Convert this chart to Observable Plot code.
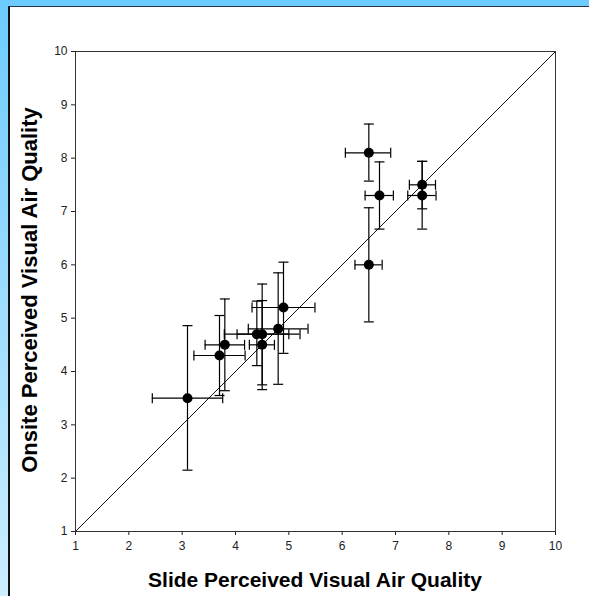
<!DOCTYPE html>
<html><head><meta charset="utf-8">
<script src="https://cdn.jsdelivr.net/npm/d3@7"></script>
<script src="https://cdn.jsdelivr.net/npm/@observablehq/plot@0.6"></script>
<style>
html,body{margin:0;padding:0;width:589px;height:596px;overflow:hidden;}
#bg{position:absolute;left:0;top:0;width:589px;height:596px;background:linear-gradient(to bottom,#6ccbff,#cdeeff);}
#panel{position:absolute;left:8px;top:6px;right:0;bottom:0;background:#fff;border-left:2px solid #111;border-top:1px solid #2a3440;}
#chart{position:absolute;left:0;top:0;}
#chart svg text{font-size:12px;fill:#222;}
.ttl{position:absolute;font-family:"Liberation Sans",Arial,sans-serif;font-weight:bold;color:#000;white-space:nowrap;}
#xt{left:315px;top:580px;font-size:21px;transform:translate(-50%,-50%);}
#yt{left:30px;top:290px;font-size:22px;transform:translate(-50%,-50%) rotate(-90deg);}
</style>
</head><body>
<div id="bg"></div>
<div id="panel"></div>
<div id="chart"></div>
<div class="ttl" id="xt">Slide Perceived Visual Air Quality</div>
<div class="ttl" id="yt">Onsite Perceived Visual Air Quality</div>
<script>
// Data
const slide    = [3.1, 3.7, 3.8, 4.4, 4.5, 4.5, 4.8, 4.9, 6.5, 6.5, 6.7, 7.5, 7.5];
const onsite   = [3.5, 4.3, 4.5, 4.7, 4.7, 4.5, 4.8, 5.2, 8.1, 6.0, 7.3, 7.5, 7.3];
const slideLo  = [2.44, 3.22, 3.43, 3.79, 4.03, 4.26, 4.24, 4.31, 6.06, 6.24, 6.43, 7.26, 7.23];
const slideHi  = [3.76, 4.18, 4.17, 5.00, 5.21, 4.73, 5.36, 5.49, 6.91, 6.75, 6.96, 7.75, 7.76];
const onsiteLo = [2.15, 3.55, 3.64, 4.11, 3.75, 3.66, 3.76, 4.34, 7.57, 4.93, 6.67, 7.05, 6.67];
const onsiteHi = [4.86, 5.05, 5.36, 5.32, 5.64, 5.33, 5.85, 6.05, 8.64, 7.07, 7.93, 7.94, 7.94];
const xTicks = [1, 2, 3, 4, 5, 6, 7, 8, 9, 10];
const yTicks = [1, 2, 3, 4, 5, 6, 7, 8, 9, 10];
const identityLine = [1, 10];

const points = slide.map((s, i) => ({
  slide: s, onsite: onsite[i],
  slideLo: slideLo[i], slideHi: slideHi[i],
  onsiteLo: onsiteLo[i], onsiteHi: onsiteHi[i]
}));

const vCap = {draw(ctx, size) { const r = Math.sqrt(size / Math.PI); ctx.moveTo(0, -r); ctx.lineTo(0, r); }};
const hCap = {draw(ctx, size) { const r = Math.sqrt(size / Math.PI); ctx.moveTo(-r, 0); ctx.lineTo(r, 0); }};

const chart = Plot.plot({
  width: 589, height: 596,
  marginLeft: 75, marginRight: 34, marginTop: 51, marginBottom: 65,
  style: {background: "transparent", fontFamily: "'Liberation Sans', Arial, sans-serif", fontSize: "12px", color: "#222"},
  x: {domain: [1, 10], ticks: xTicks, tickFormat: "d", tickSize: 4, tickPadding: 6, label: null},
  y: {domain: [1, 10], ticks: yTicks, tickFormat: "d", tickSize: 4, tickPadding: 4, label: null},
  marks: [
    Plot.line(identityLine, {x: d => d, y: d => d, stroke: "#111", strokeWidth: 1}),
    Plot.ruleY(points, {y: "onsite", x1: "slideLo", x2: "slideHi", stroke: "#000", strokeWidth: 1.2}),
    Plot.ruleX(points, {x: "slide", y1: "onsiteLo", y2: "onsiteHi", stroke: "#000", strokeWidth: 1.2}),
    Plot.dot(points, {x: "slideLo", y: "onsite", symbol: vCap, r: 5, fill: "none", stroke: "#000", strokeWidth: 1.2}),
    Plot.dot(points, {x: "slideHi", y: "onsite", symbol: vCap, r: 5, fill: "none", stroke: "#000", strokeWidth: 1.2}),
    Plot.dot(points, {x: "slide", y: "onsiteLo", symbol: hCap, r: 5, fill: "none", stroke: "#000", strokeWidth: 1.2}),
    Plot.dot(points, {x: "slide", y: "onsiteHi", symbol: hCap, r: 5, fill: "none", stroke: "#000", strokeWidth: 1.2}),
    Plot.dot(points, {x: "slide", y: "onsite", r: 5, fill: "#000", stroke: "none"}),
    Plot.frame({stroke: "#333", strokeWidth: 1})
  ]
});
document.getElementById("chart").appendChild(chart);
</script>
</body></html>
